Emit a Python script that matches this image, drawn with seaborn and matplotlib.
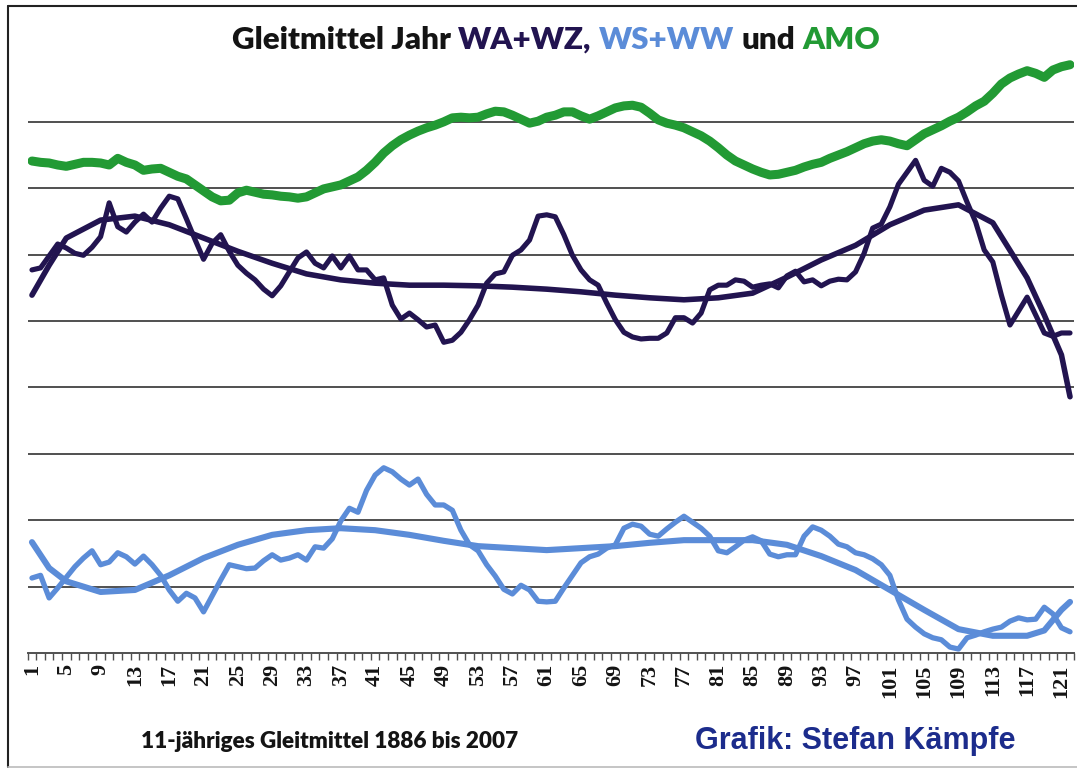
import numpy as np
import seaborn as sns
import matplotlib.pyplot as plt
from matplotlib.lines import Line2D

# 11-year running means, index 1 = 1886 ... 122 = 2007 (arbitrary units, no y scale shown)
years = list(range(1, 123))

amo = [74.1, 73.9, 73.8, 73.5, 73.3, 73.6, 73.9, 73.9, 73.8, 73.5,
       74.5, 73.9, 73.5, 72.7, 72.9, 73.0, 72.4, 71.8, 71.4, 70.5,
       69.6, 68.7, 68.1, 68.2, 69.3, 69.7, 69.4, 69.1, 69.0, 68.8,
       68.7, 68.5, 68.7, 69.3, 69.9, 70.2, 70.5, 71.1, 71.7, 72.7,
       73.9, 75.3, 76.4, 77.3, 78.0, 78.6, 79.1, 79.5, 80.0, 80.6,
       80.7, 80.6, 80.7, 81.2, 81.6, 81.5, 81.0, 80.4, 79.8, 80.1,
       80.7, 81.0, 81.5, 81.5, 80.9, 80.4, 80.9, 81.5, 82.1, 82.4,
       82.5, 82.2, 81.3, 80.3, 79.8, 79.5, 79.1, 78.5, 77.9, 77.1,
       76.1, 75.0, 74.1, 73.5, 72.9, 72.4, 72.0, 72.1, 72.4, 72.7,
       73.2, 73.6, 73.9, 74.5, 75.0, 75.5, 76.1, 76.7, 77.1, 77.3,
       77.1, 76.7, 76.4, 77.3, 78.2, 78.8, 79.4, 80.1, 80.7, 81.5,
       82.4, 83.1, 84.3, 85.7, 86.6, 87.2, 87.7, 87.3, 86.7, 87.8,
       88.3, 88.6]

wawz = [57.7, 58.0, 59.8, 61.6, 61.0, 60.2, 59.9, 61.1, 62.7, 67.8,
        64.2, 63.4, 64.9, 66.1, 64.9, 67.0, 68.8, 68.4, 65.4, 62.3,
        59.3, 61.7, 63.0, 60.5, 58.4, 57.2, 56.2, 54.8, 53.8, 55.3,
        57.4, 59.5, 60.4, 58.7, 58.0, 59.8, 58.0, 59.8, 57.7, 57.7,
        56.2, 56.5, 52.4, 50.3, 51.2, 50.2, 49.1, 49.4, 46.8, 47.1,
        48.3, 50.2, 52.4, 55.7, 57.1, 57.4, 59.9, 60.7, 62.2, 65.8,
        66.0, 65.7, 63.0, 59.9, 57.7, 56.2, 55.4, 52.7, 50.2, 48.3,
        47.6, 47.3, 47.4, 47.4, 48.2, 50.5, 50.5, 49.7, 51.2, 54.7,
        55.4, 55.4, 56.2, 56.0, 55.1, 55.4, 55.6, 55.0, 56.8, 57.5,
        55.9, 56.2, 55.3, 56.0, 56.3, 56.2, 57.4, 60.2, 64.0, 64.6,
        67.2, 70.6, 72.4, 74.2, 71.2, 70.3, 73.0, 72.4, 71.1, 67.9,
        64.9, 60.7, 58.9, 53.9, 49.4, 51.5, 53.6, 50.9, 48.2, 47.7,
        48.2, 48.2]

wsww = [11.3, 11.7, 8.3, 9.8, 11.4, 13.0, 14.3, 15.4, 13.3, 13.7,
        15.1, 14.5, 13.4, 14.6, 13.3, 11.7, 9.5, 7.8, 9.0, 8.3,
        6.2, 8.6, 11.0, 13.3, 13.0, 12.7, 12.8, 13.9, 14.8, 14.0,
        14.3, 14.8, 14.0, 16.0, 15.8, 17.2, 19.9, 21.8, 21.2, 24.5,
        26.8, 27.9, 27.3, 26.2, 25.3, 26.2, 23.9, 22.3, 22.3, 21.5,
        18.5, 16.3, 15.4, 13.3, 11.6, 9.6, 8.9, 10.2, 9.5, 7.8,
        7.7, 7.8, 9.8, 11.7, 13.6, 14.5, 14.9, 15.8, 16.3, 18.8,
        19.4, 19.1, 17.9, 17.6, 18.7, 19.7, 20.6, 19.7, 18.8, 17.6,
        15.4, 15.1, 16.0, 17.0, 17.5, 16.9, 14.9, 14.5, 14.8, 14.8,
        17.6, 19.0, 18.5, 17.6, 16.4, 16.0, 15.1, 14.8, 14.2, 13.3,
        11.7, 8.0, 5.1, 3.9, 2.9, 2.3, 2.0, 0.9, 0.6, 2.3,
        2.7, 3.2, 3.6, 3.9, 4.8, 5.3, 5.0, 5.1, 6.9, 5.9,
        3.8, 3.2]

# polynomial trend lines
trend_x = [1, 3, 5, 9, 13, 17, 21, 25, 29, 33, 37, 41, 45, 49, 53, 57, 61,
           65, 69, 73, 77, 81, 85, 89, 93, 97, 101, 105, 109, 113, 117, 119,
           121, 122]
wawz_trend = [53.9, 58.4, 62.5, 65.2, 65.8, 64.5, 62.5, 60.5, 58.7, 57.1,
              56.2, 55.7, 55.4, 55.4, 55.3, 55.1, 54.8, 54.4, 53.9, 53.5,
              53.2, 53.5, 54.2, 56.6, 59.2, 61.4, 64.5, 66.7, 67.5, 64.8,
              56.5, 50.9, 44.9, 38.6]
wsww_trend = [16.7, 12.8, 10.8, 9.2, 9.5, 11.7, 14.3, 16.3, 17.8, 18.5,
              18.8, 18.5, 17.8, 16.9, 16.1, 15.8, 15.5, 15.8, 16.1, 16.6,
              17.0, 17.0, 17.0, 16.3, 14.6, 12.5, 9.5, 6.5, 3.6, 2.6,
              2.6, 3.4, 6.5, 7.7]

tick_pos = list(range(1, 122, 4))
tick_labels = [str(t) for t in tick_pos]

GREEN = "#229a34"
NAVY = "#221450"
LBLUE = "#5b8cd8"
BLACK = "#141414"

sns.set_theme(style="white")

fig = plt.figure(figsize=(10.77, 7.71), dpi=100)
ax = fig.add_axes([0.0257, 0.1530, 0.9718, 0.7751])

for gy in range(10, 90, 10):
    ax.axhline(gy, color="#505050", lw=1.4, zorder=0)

kw = dict(solid_joinstyle="round", solid_capstyle="round")
sns.lineplot(x=years, y=amo, color=GREEN, lw=6.5, ax=ax, **kw)
sns.lineplot(x=trend_x, y=wawz_trend, color=NAVY, lw=4.0, ax=ax, **kw)
sns.lineplot(x=years, y=wawz, color=NAVY, lw=3.7, ax=ax, **kw)
sns.lineplot(x=trend_x, y=wsww_trend, color=LBLUE, lw=4.4, ax=ax, **kw)
sns.lineplot(x=years, y=wsww, color=LBLUE, lw=3.8, ax=ax, **kw)

ax.set_xlim(0.5, 122.5)
ax.set_ylim(0, 90)
ax.set_yticks([])
ax.set_xlabel("")
ax.set_ylabel("")
for s in ["top", "right", "left"]:
    ax.spines[s].set_visible(False)
ax.spines["bottom"].set_color("#505050")
ax.spines["bottom"].set_linewidth(1.4)

ax.set_xticks(tick_pos)
ax.set_xticklabels(tick_labels, rotation=90, fontsize=16, fontweight="bold",
                   family="Liberation Serif", color=BLACK)
ax.set_xticks(np.arange(0.5, 123, 1), minor=True)
ax.tick_params(axis="x", which="major", bottom=True, length=0, pad=8)
ax.tick_params(axis="x", which="minor", bottom=True, length=5,
               width=1, color="#505050", direction="out")

# multi-coloured title
segs = [("Gleitmittel Jahr", BLACK), ("WA+WZ,", NAVY), ("WS+WW", LBLUE),
        ("und", BLACK), ("AMO", GREEN)]
tprops = dict(fontsize=22.5, fontweight="heavy", family="Lato")
fig.canvas.draw()
rend = fig.canvas.get_renderer()
probe = fig.text(0, 0, "x x", **tprops)
w2 = probe.get_window_extent(rend).width
probe.set_text("xx")
space = w2 - probe.get_window_extent(rend).width
probe.remove()
texts = [fig.text(0, 0, s, color=c, **tprops) for s, c in segs]
widths = [t.get_window_extent(rend).width for t in texts]
total = sum(widths) + space * (len(segs) - 1)
xpix = 556 - total / 2
for t, w in zip(texts, widths):
    t.set_position((xpix / 1077, 1 - 40 / 771))
    t.set_va("center")
    xpix += w + space

fig.text(330 / 1077, 1 - 742 / 771, "11-jähriges Gleitmittel 1886 bis 2007",
         ha="center", va="center", fontsize=16.2, fontweight="heavy",
         family="Lato", color=BLACK)
fig.text(855 / 1077, 1 - 741 / 771, "Grafik: Stefan Kämpfe",
         ha="center", va="center", fontsize=22, fontweight="bold",
         family="Liberation Sans", color="#1c2c8c")

# outer chart frame
fig.add_artist(Line2D([8 / 1077, 1], [1 - 6 / 771, 1 - 6 / 771],
                      transform=fig.transFigure, color="#222222", lw=1.5))
fig.add_artist(Line2D([8 / 1077, 8 / 1077], [1 - 6 / 771, 1 - 767 / 771],
                      transform=fig.transFigure, color="#222222", lw=1.5))
fig.add_artist(Line2D([8 / 1077, 1], [1 - 767 / 771, 1 - 767 / 771],
                      transform=fig.transFigure, color="#bbbbbb", lw=1.2))

fig.savefig("out.png", dpi=100)
